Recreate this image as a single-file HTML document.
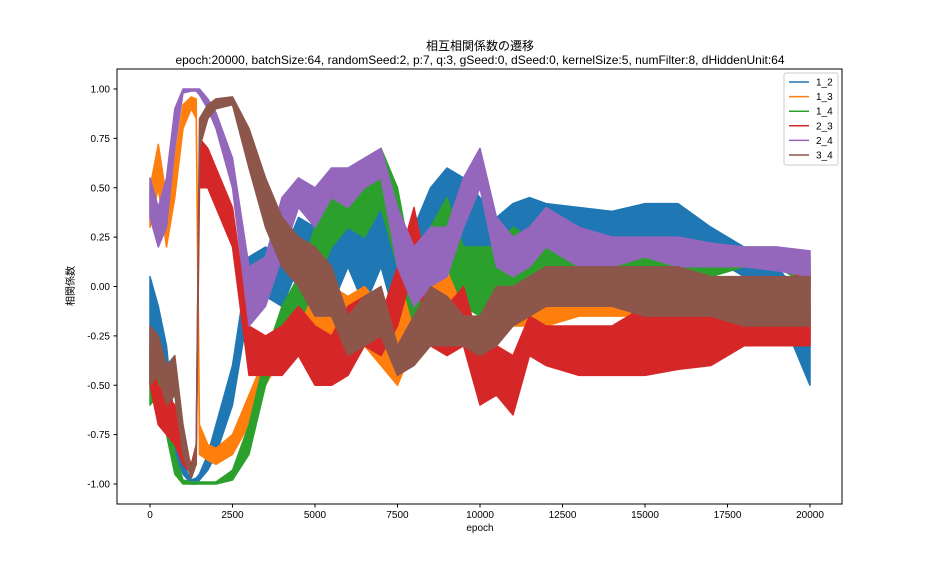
<!DOCTYPE html>
<html><head><meta charset="utf-8"><style>
body{margin:0;background:#fff;}
svg text{font-family:"Liberation Sans","Noto Sans CJK JP",sans-serif;fill:#000;}
</style></head><body>
<svg id="chart" width="936" height="576" viewBox="0 0 936 576" xmlns="http://www.w3.org/2000/svg">
<rect width="936" height="576" fill="#fff"/>
<text x="480" y="50" font-size="12" text-anchor="middle">相互相関係数の遷移</text>
<text x="480" y="64" font-size="12" text-anchor="middle">epoch:20000, batchSize:64, randomSeed:2, p:7, q:3, gSeed:0, dSeed:0, kernelSize:5, numFilter:8, dHiddenUnit:64</text>
<defs><clipPath id="pc"><rect x="117" y="69" width="725" height="435"/></clipPath></defs>
<g id="series" clip-path="url(#pc)"></g>
<g id="axes"></g>
<rect x="117" y="69" width="725" height="435" fill="none" stroke="#000" stroke-width="1"/>
<text x="480" y="531" font-size="10" text-anchor="middle">epoch</text>
<text x="74" y="286" font-size="10" text-anchor="middle" transform="rotate(-90 74 286)">相関係数</text>
<g id="legend"></g>
</svg>
<script>
const epochs=[0,250,500,750,1000,1250,1400,1500,1750,2000,2500,3000,3500,4000,4500,5000,5500,6000,6500,7000,7500,8000,8500,9000,9500,10000,10500,11000,11500,12000,13000,14000,15000,16000,17000,18000,19000,20000];
const names=["1_2","1_3","1_4","2_3","2_4","3_4"];
const colors=["#1f77b4","#ff7f0e","#2ca02c","#d62728","#9467bd","#8c564b"];
const lo12=[-0.3,-0.45,-0.6,-0.85,-0.95,-1,-1,-0.98,-0.93,-0.85,-0.6,-0.1,-0.05,-0.1,0.1,0,-0.1,0.1,-0.1,0.1,-0.2,-0.1,0.1,0.2,0.2,0.1,-0.05,0.2,0.25,0.2,0.22,0.22,0.2,0.2,0.15,0.05,-0.1,-0.5];
const hi12=[0.05,-0.1,-0.3,-0.7,-0.9,-0.98,-0.97,-0.95,-0.85,-0.7,-0.4,0.15,0.2,0.15,0.35,0.3,0.45,0.5,0.45,0.5,0.2,0.3,0.5,0.6,0.55,0.45,0.35,0.42,0.45,0.42,0.4,0.38,0.42,0.42,0.3,0.2,0.1,-0.1];
const lo13=[0.3,0.5,0.2,0.45,0.8,0.9,0.85,-0.85,-0.88,-0.9,-0.85,-0.7,-0.5,-0.35,-0.3,-0.25,-0.4,-0.35,-0.3,-0.4,-0.5,-0.3,-0.25,-0.2,-0.15,-0.1,-0.25,-0.2,-0.2,-0.2,-0.15,-0.15,-0.15,-0.2,-0.22,-0.25,-0.28,-0.28];
const hi13=[0.5,0.72,0.45,0.65,0.92,0.96,0.95,-0.7,-0.8,-0.82,-0.75,-0.55,-0.35,-0.2,-0.05,0.05,0,-0.05,0,-0.1,-0.1,0.1,0.2,0.1,0.05,0.1,0,0.05,0.05,0.05,0.05,0.05,0.05,0,-0.08,-0.15,-0.18,-0.15];
const lo14=[-0.6,-0.55,-0.75,-0.95,-1,-1,-1,-1,-1,-1,-0.98,-0.85,-0.5,-0.3,-0.2,0,0.2,0.3,0.25,0.4,0.1,-0.2,0,0.1,-0.1,-0.15,-0.1,0,0,-0.05,0,0,0.05,0.05,0.05,0.1,0.1,0];
const hi14=[-0.3,-0.3,-0.5,-0.85,-0.98,-0.99,-0.99,-0.99,-0.99,-0.99,-0.93,-0.7,-0.35,-0.1,0.05,0.3,0.45,0.55,0.5,0.7,0.5,0.05,0.3,0.45,0.2,0.2,0.2,0.3,0.25,0.2,0.2,0.2,0.2,0.18,0.2,0.2,0.2,0.15];
const lo23=[-0.5,-0.7,-0.75,-0.8,-0.9,-0.95,-0.9,0.5,0.5,0.4,0.2,-0.45,-0.45,-0.45,-0.35,-0.5,-0.5,-0.45,-0.3,-0.35,-0.2,0.1,-0.3,-0.35,-0.3,-0.6,-0.55,-0.65,-0.35,-0.4,-0.45,-0.45,-0.45,-0.42,-0.4,-0.3,-0.3,-0.3];
const hi23=[-0.3,-0.5,-0.55,-0.6,-0.8,-0.9,-0.8,0.75,0.7,0.6,0.4,-0.2,-0.25,-0.2,-0.1,-0.2,-0.25,-0.1,-0.05,-0.15,0.1,0.4,0,-0.1,0,-0.3,-0.3,-0.35,-0.15,-0.2,-0.2,-0.2,-0.1,-0.15,-0.1,-0.1,0,0.1];
const lo24=[0.35,0.2,0.3,0.7,0.98,0.99,0.99,0.97,0.9,0.8,0.5,-0.2,-0.1,0.15,0.4,0.3,0.45,0.4,0.5,0.55,0.1,-0.1,0,0.05,0.3,0.5,0.1,0.05,0.1,0.2,0.1,0.1,0.15,0.1,0.1,0.1,0.08,0.05];
const hi24=[0.55,0.4,0.55,0.9,1,1,1,1,0.95,0.88,0.65,0.1,0.15,0.45,0.55,0.5,0.6,0.6,0.65,0.7,0.4,0.2,0.3,0.3,0.55,0.7,0.35,0.25,0.3,0.4,0.3,0.25,0.25,0.25,0.22,0.2,0.2,0.18];
const lo34=[-0.5,-0.45,-0.6,-0.55,-0.85,-0.97,-0.9,0.7,0.85,0.9,0.92,0.6,0.3,0.1,0,-0.15,-0.15,-0.35,-0.3,-0.25,-0.45,-0.4,-0.3,-0.3,-0.3,-0.35,-0.3,-0.2,-0.15,-0.1,-0.1,-0.1,-0.15,-0.15,-0.15,-0.2,-0.2,-0.2];
const hi34=[-0.2,-0.25,-0.4,-0.35,-0.7,-0.93,-0.8,0.85,0.92,0.95,0.96,0.8,0.55,0.35,0.25,0.2,0.1,-0.15,-0.05,0,-0.3,-0.15,0,-0.05,-0.15,-0.15,0,0,0.05,0.1,0.1,0.1,0.1,0.1,0.05,0.05,0.05,0.05];
const xTicks=[0,2500,5000,7500,10000,12500,15000,17500,20000];
const yTicks=[-1.0,-0.75,-0.5,-0.25,0,0.25,0.5,0.75,1.0];
const lows=[lo12,lo13,lo14,lo23,lo24,lo34];
const highs=[hi12,hi13,hi14,hi23,hi24,hi34];
const NS="http://www.w3.org/2000/svg";
function xs(e){return 150+e*0.033;}
function ys(v){return 286.5-v*197.5;}
const sg=document.getElementById('series');
for(let s=0;s<names.length;s++){
  let pts=[];
  for(let i=0;i<epochs.length;i++)pts.push(xs(epochs[i]).toFixed(1)+','+ys(highs[s][i]).toFixed(1));
  for(let i=epochs.length-1;i>=0;i--)pts.push(xs(epochs[i]).toFixed(1)+','+ys(lows[s][i]).toFixed(1));
  const p=document.createElementNS(NS,'polygon');
  p.setAttribute('points',pts.join(' '));
  p.setAttribute('fill',colors[s]);p.setAttribute('stroke',colors[s]);p.setAttribute('stroke-width','1.5');p.setAttribute('stroke-linejoin','round');
  
  
  sg.appendChild(p);
}
const ax=document.getElementById('axes');
xTicks.forEach(t=>{
  const x=xs(t);
  const l=document.createElementNS(NS,'line');
  l.setAttribute('x1',x);l.setAttribute('x2',x);l.setAttribute('y1',504);l.setAttribute('y2',507.5);l.setAttribute('stroke','#000');
  
  
  ax.appendChild(l);
  const tx=document.createElementNS(NS,'text');
  tx.setAttribute('x',x);tx.setAttribute('y',518);tx.setAttribute('font-size','10');tx.setAttribute('text-anchor','middle');
  tx.textContent=String(t);
  
  
  ax.appendChild(tx);
});
yTicks.forEach(t=>{
  const y=ys(t);
  const l=document.createElementNS(NS,'line');
  l.setAttribute('x1',113.5);l.setAttribute('x2',117);l.setAttribute('y1',y);l.setAttribute('y2',y);l.setAttribute('stroke','#000');
  
  
  ax.appendChild(l);
  const tx=document.createElementNS(NS,'text');
  tx.setAttribute('x',110);tx.setAttribute('y',y+3.5);tx.setAttribute('font-size','10');tx.setAttribute('text-anchor','end');
  tx.textContent=t.toFixed(2);
  
  
  ax.appendChild(tx);
});
const lg=document.getElementById('legend');
const box=document.createElementNS(NS,'rect');
box.setAttribute('x',784);box.setAttribute('y',73);box.setAttribute('width',54);box.setAttribute('height',92);box.setAttribute('rx',2);
box.setAttribute('fill','#fff');box.setAttribute('fill-opacity','0.8');box.setAttribute('stroke','#ccc');


lg.appendChild(box);
names.forEach((n,i)=>{
  const y=82+i*14.6;
  const l=document.createElementNS(NS,'line');
  l.setAttribute('x1',789);l.setAttribute('x2',809);l.setAttribute('y1',y);l.setAttribute('y2',y);l.setAttribute('stroke',colors[i]);l.setAttribute('stroke-width','1.5');
  
  
  lg.appendChild(l);
  const tx=document.createElementNS(NS,'text');
  tx.setAttribute('x',816);tx.setAttribute('y',y+3.5);tx.setAttribute('font-size','10');
  tx.textContent=n;
  
  
  lg.appendChild(tx);
});
</script>
</body></html>
